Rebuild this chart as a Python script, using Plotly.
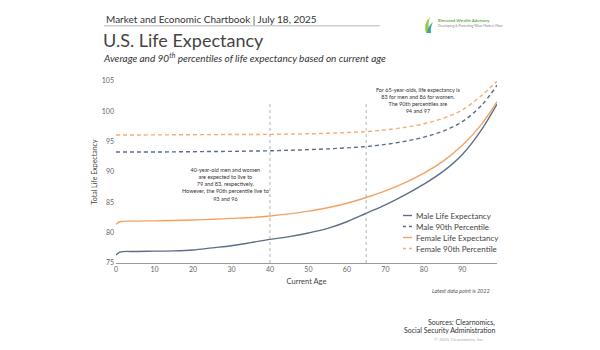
import plotly.graph_objects as go

# ---------------- data ----------------
ages = [0, 1, 5, 10, 15, 20, 25, 30, 35, 40, 45, 50, 55, 60, 65, 70, 75, 80, 85, 90, 95, 99]
male_le = [76.3, 76.8, 76.9, 76.95, 77.0, 77.15, 77.5, 77.85, 78.35, 78.9, 79.35, 79.95, 80.7, 81.8,
           83.2, 84.6, 86.2, 88.0, 90.1, 92.9, 97.0, 101.2]
male_90 = [93.3, 93.3, 93.3, 93.3, 93.32, 93.35, 93.38, 93.4, 93.45, 93.5, 93.58, 93.68, 93.82, 93.98,
           94.2, 94.55, 95.05, 95.75, 96.75, 98.3, 101.0, 104.3]
female_le = [81.4, 81.8, 81.9, 81.95, 82.0, 82.1, 82.2, 82.35, 82.5, 82.75, 83.1, 83.55, 84.1, 84.85,
             85.8, 86.9, 88.2, 89.8, 91.8, 94.4, 97.9, 101.6]
female_90 = [96.1, 96.1, 96.1, 96.12, 96.13, 96.15, 96.16, 96.18, 96.19, 96.2, 96.24, 96.3, 96.38, 96.5,
             96.65, 96.95, 97.35, 97.95, 98.85, 100.25, 102.6, 105.0]
series_names = ["Male Life Expectancy", "Male 90th Percentile", "Female Life Expectancy", "Female 90th Percentile"]
x_ticks = [0, 10, 20, 30, 40, 50, 60, 70, 80, 90]
y_ticks = [75, 80, 85, 90, 95, 100, 105]
marker_ages = [40, 65]

# ---------------- style ----------------
W, H = 600, 350
L, R, T, B = 116, 103, 81, 87
MALE = "#5d6f87"
FEMALE = "#f2a363"
FEMALE_D = "#f5ad74"
FONT = "Lato"
TXT = "#3d3d3d"

def px(x):
    return (x - L) / (W - L - R)

def py(y):
    return (H - B - y) / (H - T - B)

fig = go.Figure()
styles = [
    (male_le, MALE, "solid"),
    (male_90, MALE, "4px,3px"),
    (female_le, FEMALE, "solid"),
    (female_90, FEMALE_D, "4px,3px"),
]
for (vals, col, dash), name in zip(styles, series_names):
    fig.add_trace(go.Scatter(x=ages, y=vals, mode="lines", name=name,
                             line=dict(color=col, width=1.4, dash=dash, shape="spline", smoothing=1.0),
                             showlegend=False))

shapes = []
for a in marker_ages:
    shapes.append(dict(type="line", xref="x", yref="y", x0=a, x1=a, y0=75, y1=101.5,
                       line=dict(color="#b0b0b0", width=1, dash="dot")))
# header rule
shapes.append(dict(type="line", xref="paper", yref="paper", x0=px(104), x1=px(380), y0=py(25.7), y1=py(25.7),
                   line=dict(color="#cfcfcf", width=1.5)))
# logo swoosh (decorative)
shapes.append(dict(type="path", xref="paper", yref="paper",
                   path=f"M {px(426)} {py(33)} Q {px(423)} {py(24)} {px(430)} {py(17)} Q {px(427)} {py(25)} {px(430)} {py(33)} Z",
                   fillcolor="#9cc84a", line=dict(width=0)))
shapes.append(dict(type="path", xref="paper", yref="paper",
                   path=f"M {px(427)} {py(33)} Q {px(428)} {py(26)} {px(433)} {py(22)} Q {px(430)} {py(28)} {px(431)} {py(33)} Z",
                   fillcolor="#3aa6a0", line=dict(width=0)))

# custom legend
leg_y = [215.5, 226.5, 237.5, 248.5]
for (vals, col, dash), yy in zip(styles, leg_y):
    shapes.append(dict(type="line", xref="paper", yref="paper", x0=px(403), x1=px(412), y0=py(yy), y1=py(yy),
                       line=dict(color=col, width=1.4, dash="3px,3px" if dash != "solid" else "solid")))

ann = []
def text(x, y, s, size, color=TXT, xanchor="left", italic=False, family=FONT, **kw):
    ann.append(dict(xref="paper", yref="paper", x=px(x), y=py(y), text=s, showarrow=False,
                    xanchor=xanchor, yanchor="middle",
                    font=dict(size=size, color=color, family=family, style="italic" if italic else "normal"), **kw))

for name, yy in zip(series_names, leg_y):
    text(414, yy, name, 8, color="#444444")

text(104, 18.5, "Market and Economic Chartbook | July 18, 2025", 10, color="#333333")
text(101, 40, "U.S. Life Expectancy", 18, color="#444444")
text(101, 57, "Average and 90<sup>th</sup> percentiles of life expectancy based on current age", 10,
     color="#333333", italic=True)
text(436, 20.5, "<b>Elevated Wealth Advisory</b>", 4.5, color="#6aa84f")
text(436, 26, "Developing & Protecting What Matters Most", 3.3, color="#888888")

text(225, 184.5, "40-year-old men and women<br>are expected to live to<br>79 and 83, respectively.<br>"
     "However, the 90th percentile live to<br>93 and 96", 5.5, color="#333333", xanchor="center", align="center")
text(418, 100.5, "For 65-year-olds, life expectancy is<br>83 for men and 86 for women.<br>"
     "The 90th percentiles are<br>94 and 97", 5.5, color="#333333", xanchor="center", align="center")

text(492, 290.5, "Latest data point is 2022", 5.5, color="#555555", xanchor="right", italic=True)
text(497, 322.5, "Sources: Clearnomics,", 7, color="#333333", xanchor="right")
text(497, 330, "Social Security Administration", 7, color="#333333", xanchor="right")
text(486, 339, "© 2025 Clearnomics, Inc.", 4.5, color="#aaaaaa", xanchor="right")

fig.update_layout(
    width=W, height=H, margin=dict(l=L, r=R, t=T, b=B),
    paper_bgcolor="white", plot_bgcolor="white",
    font=dict(family=FONT, size=7, color="#555555"),
    shapes=shapes, annotations=ann, showlegend=False,
    xaxis=dict(range=[0, 99], tickvals=x_ticks, showgrid=False, zeroline=False,
               showline=True, linecolor="#9a9a9a", linewidth=1, ticks="",
               tickfont=dict(size=7, color="#666666"),
               title=dict(text="Current Age", font=dict(size=7.5, color="#444444"), standoff=6)),
    yaxis=dict(range=[75, 105], tickvals=y_ticks, showgrid=False, zeroline=False,
               showline=False, ticks="", ticklabelstandoff=1,
               tickfont=dict(size=7, color="#666666"),
               title=dict(text="Total Life Expectancy", font=dict(size=7, color="#444444"), standoff=3)),
)

fig.write_html("out.html")
